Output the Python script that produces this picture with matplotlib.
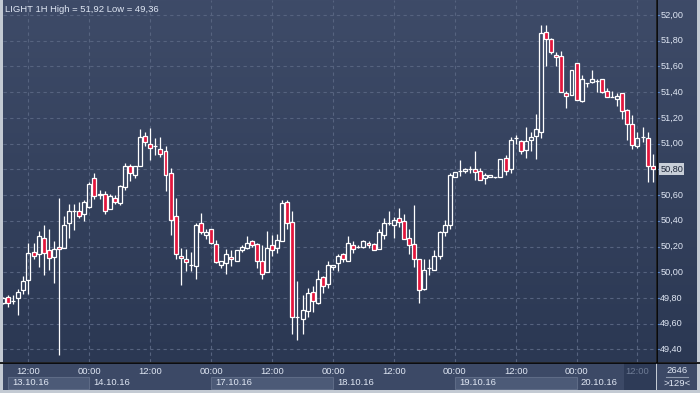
import numpy as np
import matplotlib
matplotlib.use("Agg")
import matplotlib.pyplot as plt
from matplotlib.patches import Rectangle
from matplotlib.colors import LinearSegmentedColormap

# ---------------- data (LIGHT 1H candles) ----------------
opens = [49.76, 49.81, 49.78, 49.80, 49.86, 49.94, 50.16, 50.14, 50.27, 50.17,
         50.12, 50.20, 50.19, 50.38, 50.48, 50.48, 50.45, 50.51, 50.73, 50.61,
         50.61, 50.49, 50.58, 50.54, 50.66, 50.83, 50.76, 50.83, 51.06, 51.00,
         50.98, 50.96, 50.94, 50.77, 50.44, 50.13, 50.10, 50.06, 50.05, 50.38,
         50.29, 50.34, 50.22, 50.06, 50.07, 50.12, 50.09, 50.17, 50.19, 50.24,
         50.22, 50.09, 50.00, 50.21, 50.19, 50.24, 50.55, 50.39, 49.65, 49.64,
         49.70, 49.85, 49.76, 49.96, 49.91, 50.04, 50.07, 50.14, 50.09, 50.21,
         50.20, 50.20, 50.23, 50.22, 50.18, 50.29, 50.38, 50.37, 50.42, 50.40,
         50.27, 50.22, 50.10, 49.87, 50.03, 50.02, 50.13, 50.31, 50.37, 50.74,
         50.79, 50.79, 50.80, 50.80, 50.79, 50.73, 50.74, 50.74, 50.74, 50.89,
         50.80, 51.04, 51.02, 50.95, 51.03, 51.06, 51.09, 51.87, 51.81, 51.69,
         51.68, 51.39, 51.38, 51.63, 51.33, 51.47, 51.48, 51.49, 51.50, 51.41,
         51.36, 51.35, 51.39, 51.26, 51.15, 50.98, 51.05, 51.04, 50.83]
highs = [49.81, 49.82, 49.82, 49.87, 49.97, 50.23, 50.23, 50.32, 50.37, 50.34,
         50.24, 50.58, 50.44, 50.53, 50.53, 50.55, 50.56, 50.70, 50.77, 50.64,
         50.63, 50.61, 50.60, 50.68, 50.85, 50.84, 50.83, 51.11, 51.09, 51.12,
         51.04, 51.05, 50.98, 50.81, 50.58, 50.19, 50.18, 50.16, 50.38, 50.46,
         50.34, 50.34, 50.25, 50.09, 50.18, 50.17, 50.17, 50.21, 50.28, 50.25,
         50.23, 50.21, 50.32, 50.29, 50.30, 50.56, 50.56, 50.48, 49.93, 49.82,
         49.88, 49.89, 50.02, 49.97, 50.09, 50.06, 50.14, 50.15, 50.28, 50.24,
         50.21, 50.25, 50.24, 50.23, 50.34, 50.42, 50.48, 50.43, 50.50, 50.45,
         50.34, 50.52, 50.10, 50.10, 50.10, 50.17, 50.32, 50.41, 50.77, 50.78,
         50.87, 50.81, 50.83, 50.94, 50.81, 50.77, 50.76, 50.74, 50.88, 50.91,
         51.05, 51.07, 51.03, 51.13, 51.09, 51.23, 51.92, 51.92, 51.82, 51.71,
         51.72, 51.41, 51.57, 51.63, 51.53, 51.47, 51.57, 51.50, 51.50, 51.43,
         51.41, 51.39, 51.39, 51.27, 51.22, 51.09, 51.13, 51.09, 50.92]
lows = [49.75, 49.73, 49.75, 49.67, 49.83, 49.83, 50.10, 50.04, 49.98, 50.02,
        49.92, 49.36, 50.19, 50.27, 50.33, 50.42, 50.40, 50.50, 50.57, 50.57,
        50.45, 50.49, 50.53, 50.52, 50.64, 50.71, 50.73, 50.83, 50.98, 50.87,
        50.91, 50.90, 50.63, 50.29, 50.10, 49.90, 50.01, 50.01, 49.95, 50.30,
        50.26, 50.22, 50.07, 50.03, 49.99, 50.05, 50.09, 50.16, 50.18, 50.20,
        50.03, 49.95, 50.00, 50.13, 50.15, 50.24, 50.34, 49.52, 49.47, 49.52,
        49.65, 49.69, 49.75, 49.84, 49.88, 50.02, 50.01, 50.08, 50.09, 50.15,
        50.19, 50.19, 50.19, 50.17, 50.18, 50.26, 50.37, 50.27, 50.35, 50.26,
        50.14, 50.04, 49.76, 49.86, 49.98, 50.02, 50.10, 50.28, 50.34, 50.74,
        50.75, 50.77, 50.77, 50.72, 50.72, 50.69, 50.74, 50.73, 50.74, 50.76,
        50.77, 51.00, 50.92, 50.89, 50.94, 50.88, 51.04, 51.60, 51.70, 51.60,
        51.40, 51.28, 51.38, 51.34, 51.32, 51.44, 51.47, 51.40, 51.39, 51.36,
        51.36, 51.29, 51.19, 51.03, 50.96, 50.97, 51.01, 50.70, 50.70]
closes = [49.80, 49.76, 49.78, 49.85, 49.93, 50.15, 50.13, 50.28, 50.15, 50.11,
          50.18, 50.18, 50.37, 50.48, 50.48, 50.44, 50.55, 50.69, 50.59, 50.60,
          50.48, 50.59, 50.55, 50.67, 50.83, 50.77, 50.83, 51.05, 51.01, 50.97,
          50.98, 50.92, 50.76, 50.41, 50.14, 50.11, 50.08, 50.06, 50.37, 50.31,
          50.31, 50.23, 50.08, 50.09, 50.14, 50.10, 50.17, 50.20, 50.23, 50.21,
          50.09, 49.99, 50.19, 50.17, 50.25, 50.54, 50.38, 49.65, 49.65, 49.71,
          49.84, 49.78, 49.95, 49.89, 50.06, 50.06, 50.13, 50.10, 50.23, 50.18,
          50.20, 50.24, 50.21, 50.17, 50.31, 50.38, 50.38, 50.41, 50.39, 50.26,
          50.21, 50.10, 49.86, 50.02, 50.03, 50.13, 50.31, 50.37, 50.76, 50.78,
          50.79, 50.80, 50.80, 50.78, 50.72, 50.76, 50.76, 50.74, 50.88, 50.79,
          51.03, 51.04, 50.94, 51.02, 51.05, 51.11, 51.86, 51.81, 51.71, 51.67,
          51.40, 51.37, 51.57, 51.34, 51.50, 51.47, 51.50, 51.49, 51.40, 51.36,
          51.36, 51.37, 51.25, 51.15, 50.99, 51.04, 51.05, 50.83, 50.80]

price_levels = [49.40, 49.60, 49.80, 50.00, 50.20, 50.40, 50.60, 50.80,
                51.00, 51.20, 51.40, 51.60, 51.80, 52.00]
time_tick_idx = [5, 17, 29, 41, 53, 65, 77, 89, 101, 113, 125]
time_tick_lbl = ["12:00", "00:00", "12:00", "00:00", "12:00", "00:00",
                 "12:00", "00:00", "12:00", "00:00", "12:00"]
day_labels = ["13.10.16", "14.10.16", "17.10.16", "18.10.16", "19.10.16", "20.10.16"]
day_start_idx = [1, 17, 41, 65, 89, 113]
title = "LIGHT 1H High = 51,92 Low = 49,36"
last_price_label = "50,80"
corner_top = "2646"
corner_bottom = ">129<"

# ---------------- style ----------------
W, H = 700, 393
FONT = "Liberation Sans"
plt.rcParams["font.family"] = [FONT, "DejaVu Sans"]
RED = "#e3163d"
BG_TOP = "#3e4b68"
BG_BOT = "#2b3853"
GRID = "#56637f"
TXT = "#dfe6f3"
PANEL = "#3c4966"
BORDER = "#c3cad3"

fig = plt.figure(figsize=(W / 100, H / 100), dpi=100)
fig.patch.set_facecolor(BORDER)

def px_axes(x0, y0, x1, y1, **kw):
    # pixel box (top-left origin) -> figure axes
    return fig.add_axes([x0 / W, 1 - y1 / H, (x1 - x0) / W, (y1 - y0) / H], **kw)

n = len(opens)
xs = np.arange(n)
YMIN, YMAX = 49.302, 52.117
XMIN, XMAX = -0.02, 128.65

ax = px_axes(3, 0, 656, 362)
ax_r = px_axes(657, 0, 697, 362)
ax_b = px_axes(3, 363, 656, 390)
ax_c = px_axes(657, 363, 697, 390)

grad = LinearSegmentedColormap.from_list("bg", [BG_TOP, BG_BOT])
for a in (ax, ax_r):
    a.set_ylim(YMIN, YMAX)
    a.imshow(np.linspace(0, 1, 256).reshape(-1, 1), cmap=grad, aspect="auto",
             extent=[-1e3, 1e3, YMIN, YMAX], origin="upper", zorder=0)
    for s in a.spines.values():
        s.set_visible(False)
    a.set_xticks([]); a.set_yticks([])

ax.set_xlim(XMIN, XMAX)
ax_r.set_xlim(0, 1)

# grid
for lv in price_levels:
    ax.axhline(lv, color=GRID, lw=0.8, ls=(0, (3, 3)), zorder=1)
for t in time_tick_idx:
    ax.axvline(t, color=GRID, lw=0.8, ls=(0, (3, 3)), zorder=1)

# candles
o = np.array(opens); h = np.array(highs); l = np.array(lows); c = np.array(closes)
top = np.maximum(o, c); bot = np.minimum(o, c)
up = c >= o
lw = 0.9
ax.vlines(xs, top, h, color="white", lw=lw, zorder=3)
ax.vlines(xs, l, bot, color="white", lw=lw, zorder=3)
ax.bar(xs[up], (top - bot)[up], bottom=bot[up], width=0.78, facecolor="none",
       edgecolor="white", linewidth=lw, zorder=4)
ax.bar(xs[~up], (top - bot)[~up], bottom=bot[~up], width=0.78, facecolor=RED,
       edgecolor="white", linewidth=lw, zorder=4)

# title
fig.text(5 / W, 1 - 9 / H, title, color=TXT, fontsize=6.8, va="center", ha="left")

# right axis
fig.add_artist(plt.Line2D([656.5 / W, 656.5 / W], [1 - 362 / H, 1], color="black", lw=1.2))
for lv in price_levels:
    ax_r.text(0.08, lv, f"{lv:.2f}".replace(".", ","), color=TXT, fontsize=6.6,
              va="center", ha="left", zorder=5)
    ax_r.plot([0.0, 0.06], [lv, lv], color="#5b86c9", lw=0.8, zorder=4)
ax_r.text(0.08, closes[-1], last_price_label, color="#1d2638", fontsize=6.6,
          va="center", ha="left", zorder=6,
          bbox=dict(boxstyle="square,pad=0.15", fc="#c9cfd8", ec="none"))

# bottom axis
for a in (ax_b, ax_c):
    a.set_facecolor(PANEL)
    for s in a.spines.values():
        s.set_visible(False)
    a.set_xticks([]); a.set_yticks([])
    a.set_ylim(0, 1)
fig.add_artist(plt.Line2D([0, 1], [1 - 362.5 / H, 1 - 362.5 / H], color="black", lw=1.2))
ax_b.set_xlim(XMIN, XMAX)
ax_c.set_xlim(0, 1)
day_end = day_start_idx[1:] + [XMAX]
for k, (d0, d1, lbl) in enumerate(zip(day_start_idx, day_end, day_labels)):
    if k % 2 == 0:
        ax_b.add_patch(Rectangle((d0, 0.03), d1 - d0, 0.45, fc="#4c5a77",
                                 ec="#5e6b86", lw=0.8, zorder=1))
    ax_b.text(d0 + 0.8, 0.26, lbl, color=TXT, fontsize=6.8, va="center", ha="left", zorder=3)
ax_b.add_patch(Rectangle((122.3, 0.0), XMAX - 122.3, 1.0, fc="#2e3b57", ec="none", zorder=2))
for t, lbl in zip(time_tick_idx, time_tick_lbl):
    col = "#6d7a94" if t == time_tick_idx[-1] else TXT
    ax_b.text(t, 0.70, lbl, color=col, fontsize=6.8, va="center", ha="center", zorder=3)

ax_c.text(0.5, 0.72, corner_top, color=TXT, fontsize=6.8, va="center", ha="center")
ax_c.plot([0.22, 0.78], [0.5, 0.5], color="#8e99ad", lw=0.8)
ax_c.text(0.5, 0.24, corner_bottom, color=TXT, fontsize=6.8, va="center", ha="center")

fig.savefig("out.png", dpi=100, facecolor=fig.get_facecolor())
